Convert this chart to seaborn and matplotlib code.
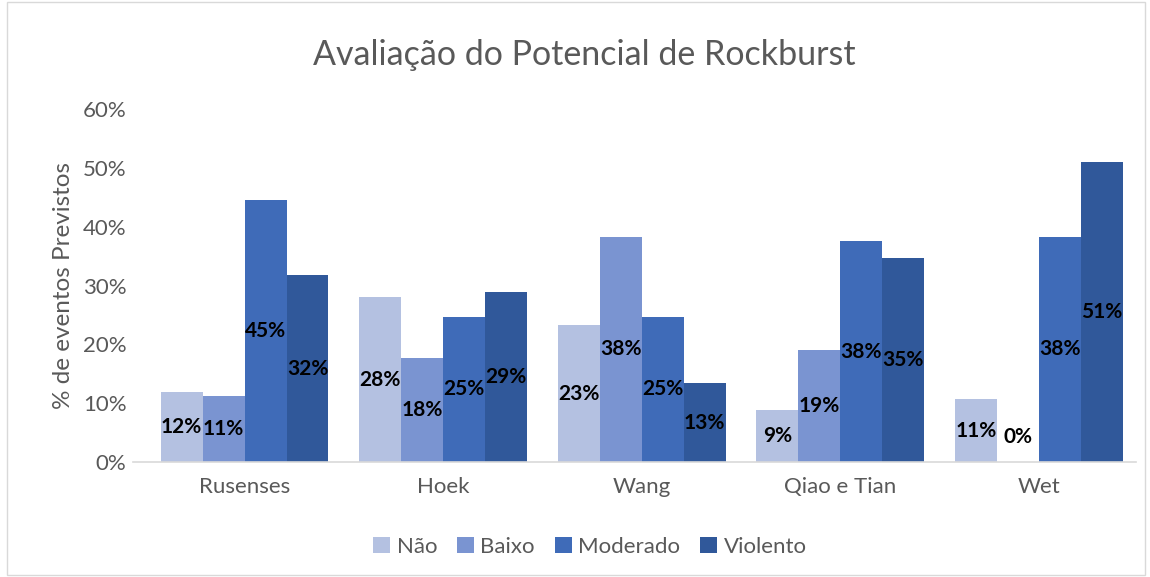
import matplotlib
matplotlib.use("Agg")
import matplotlib.pyplot as plt
import seaborn as sns
import pandas as pd
import numpy as np
from matplotlib.ticker import PercentFormatter
from matplotlib.patches import Patch

categories = ["Rusenses", "Hoek", "Wang", "Qiao e Tian", "Wet"]
series = ["Não", "Baixo", "Moderado", "Violento"]
nao = [0.12, 0.28, 0.233, 0.088, 0.107]
baixo = [0.113, 0.177, 0.383, 0.19, 0.0]
moderado = [0.446, 0.247, 0.247, 0.376, 0.383]
violento = [0.318, 0.29, 0.134, 0.347, 0.51]
colors = ["#B4C1E1", "#7A94D1", "#3F6BB8", "#30589A"]

rows = []
for s, vals in zip(series, [nao, baixo, moderado, violento]):
    for c, v in zip(categories, vals):
        rows.append({"cat": c, "serie": s, "val": v})
df = pd.DataFrame(rows)

sns.set_theme(style="white")
plt.rcParams["font.family"] = ["Lato", "DejaVu Sans"]

fig = plt.figure(figsize=(11.5, 5.77), dpi=100)
ax = fig.add_axes([0.116, 0.199, 0.872, 0.612])
sns.barplot(data=df, x="cat", y="val", hue="serie", palette=colors,
            width=0.845, gap=0, ax=ax, legend=False, saturation=1,
            edgecolor="none")

ax.set_ylim(0, 0.60)
ax.set_xlim(-0.56, 4.49)
ax.yaxis.set_major_formatter(PercentFormatter(1.0, decimals=0))
ax.set_yticks(np.arange(0, 0.61, 0.1))
ax.tick_params(axis="both", length=0, labelsize=16, labelcolor="#595959")
ax.tick_params(axis="x", pad=11)
ax.tick_params(axis="y", pad=5)
for sp in ["top", "right", "left"]:
    ax.spines[sp].set_visible(False)
ax.spines["bottom"].set_color("#D9D9D9")
ax.spines["bottom"].set_linewidth(1.2)
ax.set_xlabel("")
ax.set_ylabel("% de eventos Previstos", fontsize=17.5, color="#595959", labelpad=6)

for cont in ax.containers:
    for bar in cont:
        h = bar.get_height()
        y = max(h / 2, 0.043)
        ax.text(bar.get_x() + bar.get_width() / 2, y, f"{h*100:.0f}%",
                ha="center", va="center", fontsize=15, fontweight="bold",
                color="black")

fig.text(0.508, 0.905, "Avaliação do Potencial de Rockburst",
         ha="center", va="center", fontsize=24.5, color="#595959")

handles = [Patch(facecolor=c, edgecolor="none") for c in colors]
fig.legend(handles, series, loc="center", bbox_to_anchor=(0.513, 0.052),
           ncol=4, frameon=False, fontsize=16, handlelength=0.75,
           handleheight=0.75, handletextpad=0.3, columnspacing=0.9,
           labelcolor="#595959")

border = plt.Rectangle((0.006, 0.003), 0.99, 0.994, transform=fig.transFigure,
                       fill=False, edgecolor="#D9D9D9", linewidth=1)
fig.add_artist(border)

fig.savefig("out.png", dpi=100)
